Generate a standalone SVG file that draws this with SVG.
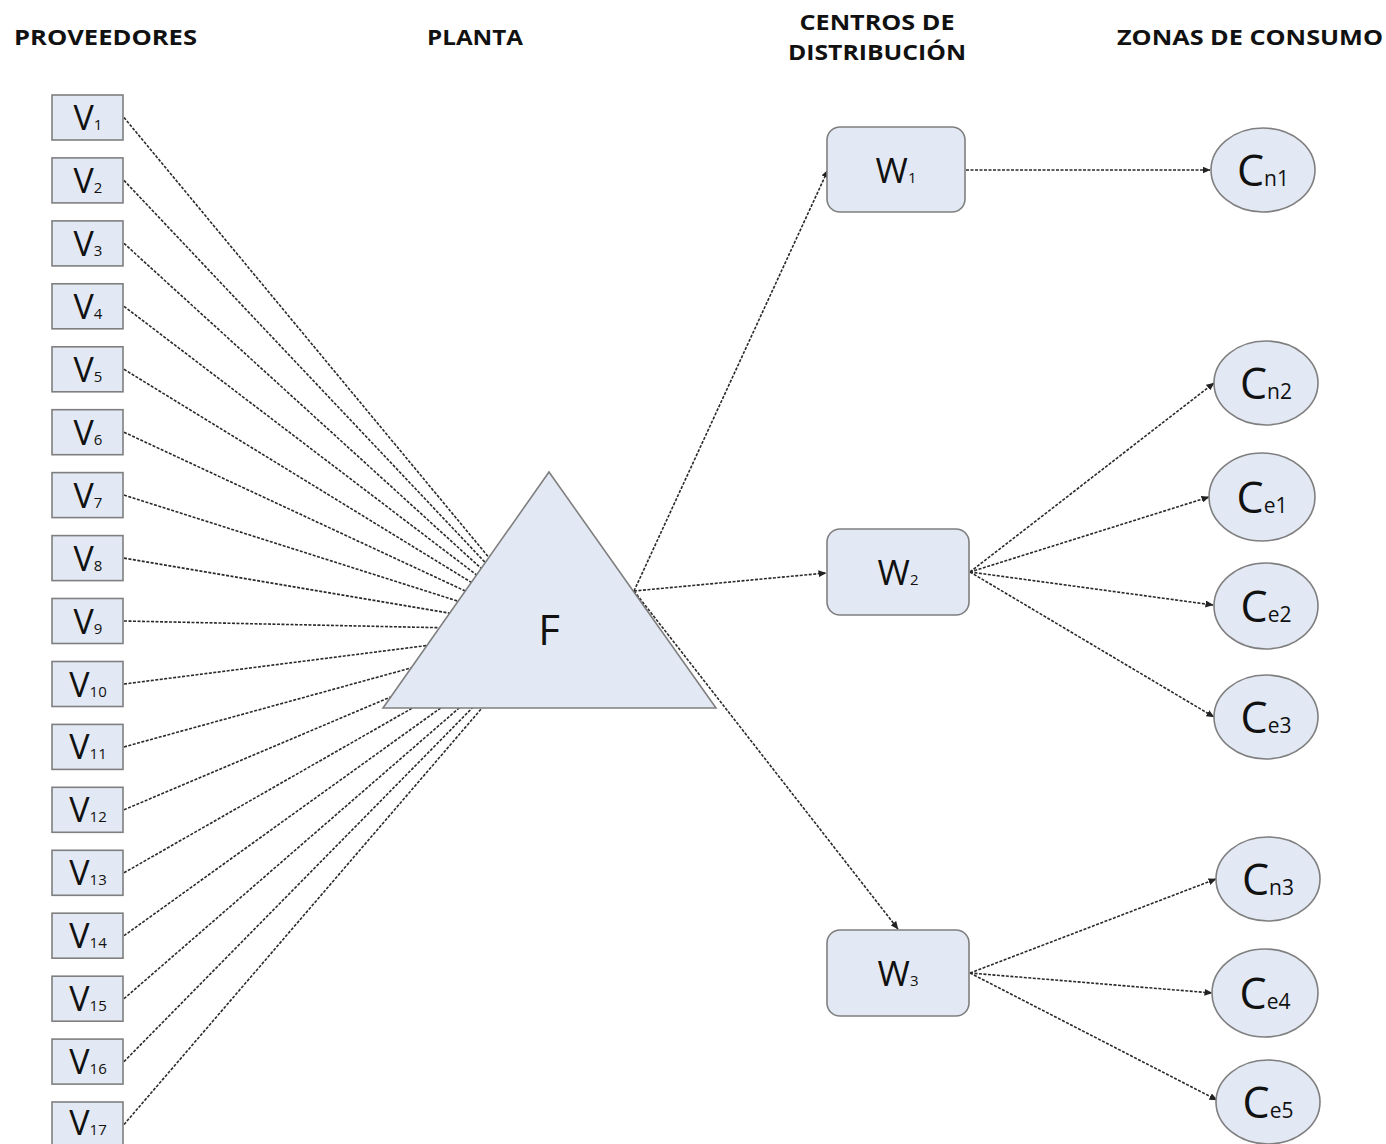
<svg xmlns="http://www.w3.org/2000/svg" width="1386" height="1144" viewBox="0 0 1386 1144">
<defs>
<marker id="arr" markerUnits="userSpaceOnUse" markerWidth="8" markerHeight="7" refX="7.5" refY="3.5" orient="auto">
<path d="M0,0 L8,3.5 L0,7 z" fill="#222"/>
</marker>
<style>
.hdr{font-family:"Open Sans","Liberation Sans",sans-serif;font-weight:bold;font-size:22px;fill:#111;text-anchor:middle}
.box{fill:#e3e9f4;stroke:#7f7f7f;stroke-width:1.6}
.lbl{font-family:"Open Sans","Liberation Sans",sans-serif;fill:#111;text-anchor:middle;font-weight:500}
.v{font-size:34px}
.sub{font-size:15px}
.csub{font-size:21px}
.c{font-size:43px}
.w{font-size:35px}
.ln{fill:none;stroke:#2a2a2a;stroke-width:1.6;stroke-dasharray:3 1.5}
.la{fill:none;stroke:#2a2a2a;stroke-width:1.6;stroke-dasharray:3 1.5;marker-end:url(#arr)}
</style>
</defs>
<rect width="1386" height="1144" fill="#fff"/>
<g id="headers">
<text class="hdr" x="105.5" y="45" textLength="183" lengthAdjust="spacingAndGlyphs">PROVEEDORES</text>
<text class="hdr" x="475" y="45" textLength="96" lengthAdjust="spacingAndGlyphs">PLANTA</text>
<text class="hdr" x="877" y="30" textLength="155" lengthAdjust="spacingAndGlyphs">CENTROS DE</text>
<text class="hdr" x="877" y="60" textLength="178" lengthAdjust="spacingAndGlyphs">DISTRIBUCIÓN</text>
<text class="hdr" x="1250" y="45" textLength="266" lengthAdjust="spacingAndGlyphs">ZONAS DE CONSUMO</text>
</g>
<g id="connectors">
<path class="ln" d="M124,117.5 L488.9,557.5"/>
<path class="ln" d="M124,180.4 L485.3,562.6"/>
<path class="ln" d="M124,243.4 L481.2,568.4"/>
<path class="ln" d="M124,306.3 L476.6,574.9"/>
<path class="ln" d="M124,369.3 L471.4,582.4"/>
<path class="ln" d="M124,432.2 L465.3,591"/>
<path class="ln" d="M124,495.1 L458.1,601.2"/>
<path class="ln" d="M124,558.1 L449.7,613.2"/>
<path class="ln" d="M124,621 L439.5,627.7"/>
<path class="ln" d="M124,684 L427,645.5"/>
<path class="ln" d="M124,746.9 L411.2,667.9"/>
<path class="ln" d="M124,809.8 L390.8,696.9"/>
<path class="ln" d="M124,872.8 L412.5,708"/>
<path class="ln" d="M124,935.7 L440.6,708"/>
<path class="ln" d="M124,998.7 L459.1,708"/>
<path class="ln" d="M124,1061.6 L472.2,708"/>
<path class="ln" d="M124,1124.5 L482,708"/>
<path class="la" d="M634,591 L828,170"/>
<path class="la" d="M634,591 L826,573"/>
<path class="la" d="M634,591 L898,929"/>
<path class="la" d="M966,170 L1210,170"/>
<path class="la" d="M970,572 L1214,383"/>
<path class="la" d="M970,572 L1209,497"/>
<path class="la" d="M970,572 L1213,605"/>
<path class="la" d="M970,572 L1214,717"/>
<path class="la" d="M970,973 L1216,879"/>
<path class="la" d="M970,973 L1212,993"/>
<path class="la" d="M970,973 L1217,1100"/>
</g>
<g id="V1"><rect class="box" x="52" y="95" width="71" height="45"/><text class="lbl" x="88" y="130"><tspan class="v">V</tspan><tspan class="sub">1</tspan></text></g>
<g id="V2"><rect class="box" x="52" y="157.9" width="71" height="45"/><text class="lbl" x="88" y="192.9"><tspan class="v">V</tspan><tspan class="sub">2</tspan></text></g>
<g id="V3"><rect class="box" x="52" y="220.9" width="71" height="45"/><text class="lbl" x="88" y="255.9"><tspan class="v">V</tspan><tspan class="sub">3</tspan></text></g>
<g id="V4"><rect class="box" x="52" y="283.8" width="71" height="45"/><text class="lbl" x="88" y="318.8"><tspan class="v">V</tspan><tspan class="sub">4</tspan></text></g>
<g id="V5"><rect class="box" x="52" y="346.8" width="71" height="45"/><text class="lbl" x="88" y="381.8"><tspan class="v">V</tspan><tspan class="sub">5</tspan></text></g>
<g id="V6"><rect class="box" x="52" y="409.7" width="71" height="45"/><text class="lbl" x="88" y="444.7"><tspan class="v">V</tspan><tspan class="sub">6</tspan></text></g>
<g id="V7"><rect class="box" x="52" y="472.6" width="71" height="45"/><text class="lbl" x="88" y="507.6"><tspan class="v">V</tspan><tspan class="sub">7</tspan></text></g>
<g id="V8"><rect class="box" x="52" y="535.6" width="71" height="45"/><text class="lbl" x="88" y="570.6"><tspan class="v">V</tspan><tspan class="sub">8</tspan></text></g>
<g id="V9"><rect class="box" x="52" y="598.5" width="71" height="45"/><text class="lbl" x="88" y="633.5"><tspan class="v">V</tspan><tspan class="sub">9</tspan></text></g>
<g id="V10"><rect class="box" x="52" y="661.5" width="71" height="45"/><text class="lbl" x="88" y="696.5"><tspan class="v">V</tspan><tspan class="sub">10</tspan></text></g>
<g id="V11"><rect class="box" x="52" y="724.4" width="71" height="45"/><text class="lbl" x="88" y="759.4"><tspan class="v">V</tspan><tspan class="sub">11</tspan></text></g>
<g id="V12"><rect class="box" x="52" y="787.3" width="71" height="45"/><text class="lbl" x="88" y="822.3"><tspan class="v">V</tspan><tspan class="sub">12</tspan></text></g>
<g id="V13"><rect class="box" x="52" y="850.3" width="71" height="45"/><text class="lbl" x="88" y="885.3"><tspan class="v">V</tspan><tspan class="sub">13</tspan></text></g>
<g id="V14"><rect class="box" x="52" y="913.2" width="71" height="45"/><text class="lbl" x="88" y="948.2"><tspan class="v">V</tspan><tspan class="sub">14</tspan></text></g>
<g id="V15"><rect class="box" x="52" y="976.2" width="71" height="45"/><text class="lbl" x="88" y="1011.2"><tspan class="v">V</tspan><tspan class="sub">15</tspan></text></g>
<g id="V16"><rect class="box" x="52" y="1039.1" width="71" height="45"/><text class="lbl" x="88" y="1074.1"><tspan class="v">V</tspan><tspan class="sub">16</tspan></text></g>
<g id="V17"><rect class="box" x="52" y="1102" width="71" height="45"/><text class="lbl" x="88" y="1135"><tspan class="v">V</tspan><tspan class="sub">17</tspan></text></g>
<g id="F"><path class="box" d="M549,472 L716,708 L383,708 Z"/><text class="lbl" x="549" y="645" font-size="42">F</text></g>
<g id="W1"><rect class="box" x="827" y="127" width="138" height="85" rx="13"/><text class="lbl" x="896" y="183"><tspan class="w">W</tspan><tspan class="sub">1</tspan></text></g>
<g id="W2"><rect class="box" x="827" y="529" width="142" height="86" rx="13"/><text class="lbl" x="898" y="585"><tspan class="w">W</tspan><tspan class="sub">2</tspan></text></g>
<g id="W3"><rect class="box" x="827" y="930" width="142" height="86" rx="13"/><text class="lbl" x="898" y="986"><tspan class="w">W</tspan><tspan class="sub">3</tspan></text></g>
<g id="Cn1"><ellipse class="box" cx="1263" cy="170" rx="52" ry="42"/><text class="lbl" x="1263" y="186"><tspan class="c">C</tspan><tspan class="csub">n1</tspan></text></g>
<g id="Cn2"><ellipse class="box" cx="1266" cy="383" rx="52" ry="42"/><text class="lbl" x="1266" y="399"><tspan class="c">C</tspan><tspan class="csub">n2</tspan></text></g>
<g id="Ce1"><ellipse class="box" cx="1262" cy="497" rx="53" ry="44"/><text class="lbl" x="1262" y="513"><tspan class="c">C</tspan><tspan class="csub">e1</tspan></text></g>
<g id="Ce2"><ellipse class="box" cx="1266" cy="606" rx="52" ry="43"/><text class="lbl" x="1266" y="622"><tspan class="c">C</tspan><tspan class="csub">e2</tspan></text></g>
<g id="Ce3"><ellipse class="box" cx="1266" cy="717" rx="52" ry="42"/><text class="lbl" x="1266" y="733"><tspan class="c">C</tspan><tspan class="csub">e3</tspan></text></g>
<g id="Cn3"><ellipse class="box" cx="1268" cy="879" rx="52" ry="42"/><text class="lbl" x="1268" y="895"><tspan class="c">C</tspan><tspan class="csub">n3</tspan></text></g>
<g id="Ce4"><ellipse class="box" cx="1265" cy="993" rx="53" ry="44"/><text class="lbl" x="1265" y="1009"><tspan class="c">C</tspan><tspan class="csub">e4</tspan></text></g>
<g id="Ce5"><ellipse class="box" cx="1268" cy="1102" rx="52" ry="42"/><text class="lbl" x="1268" y="1118"><tspan class="c">C</tspan><tspan class="csub">e5</tspan></text></g>
</svg>
